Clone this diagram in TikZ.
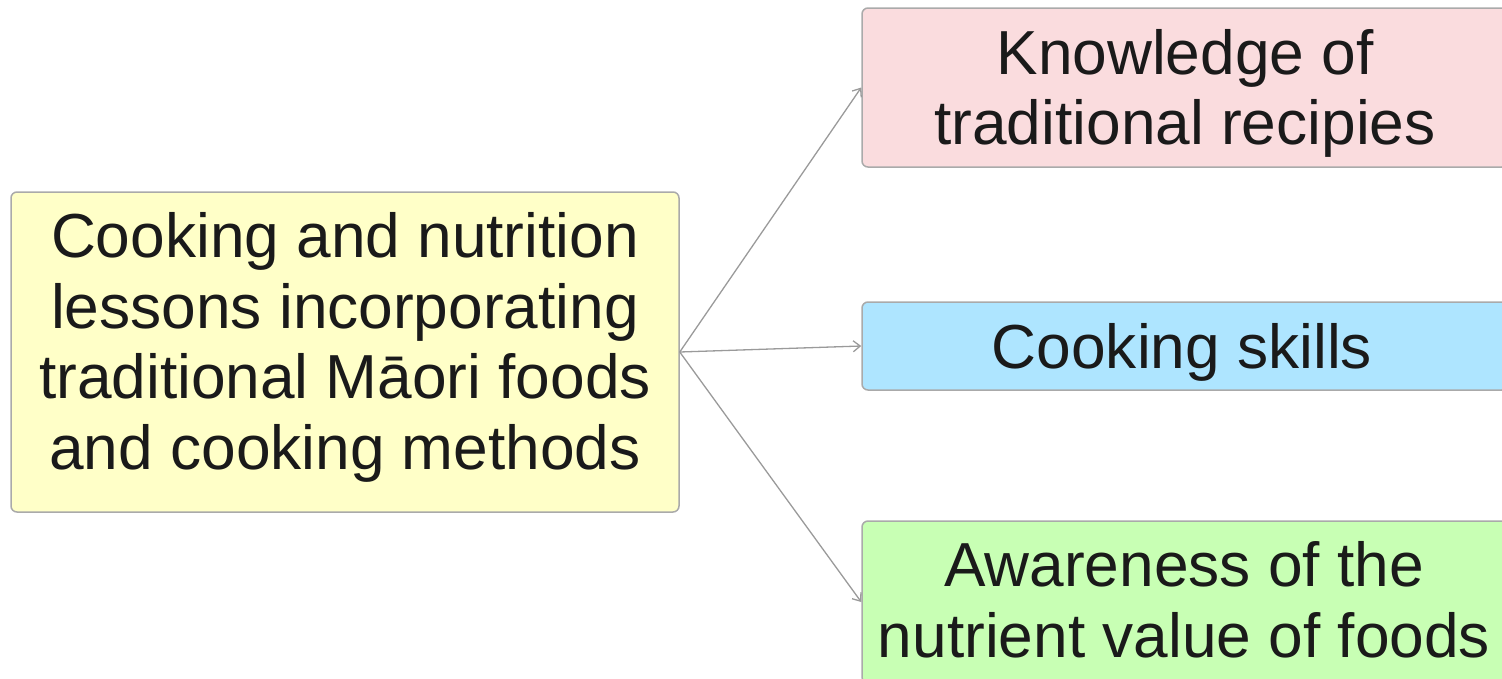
\documentclass[tikz,border=0pt]{standalone}
\usepackage{fontspec}
\setmainfont{Liberation Sans}
\usetikzlibrary{arrows.meta}
\definecolor{bordergray}{HTML}{AAAAAA}
\definecolor{linegray}{HTML}{9A9A9A}
\definecolor{yellowfill}{HTML}{FFFFC8}
\definecolor{pinkfill}{HTML}{FADCDE}
\definecolor{bluefill}{HTML}{AEE5FF}
\definecolor{greenfill}{HTML}{C8FFB4}
\definecolor{textcol}{HTML}{1A1A1A}
\tikzset{
  box/.style={draw=bordergray, line width=1.5pt, rounded corners=6pt, inner sep=0pt},
  label text/.style={align=center, inner sep=0pt, text=textcol,
    font=\fontsize{62.2}{70.5}\selectfont},
  conn/.style={draw=linegray, line width=1.3pt, -{Straight Barb[length=7pt,width=11pt,line width=1.3pt]}}
}
\begin{document}
\begin{tikzpicture}[x=1pt,y=-1pt]
\useasboundingbox (0,0) rectangle (1502,678);
\clip (0,0) rectangle (1502,678);
\node[box, fill=yellowfill, minimum width=668pt, minimum height=320pt] (src) at (345,352) {};
\node[box, fill=pinkfill, minimum width=646pt, minimum height=159pt] (know) at (1185,87.5) {};
\node[box, fill=bluefill, minimum width=646pt, minimum height=88pt] (skill) at (1185,346) {};
\node[box, fill=greenfill, minimum width=646pt, minimum height=162pt] (aware) at (1185,602) {};
\node[label text] (srctext) at (345,347.5)
  {Cooking and nutrition\\lessons incorporating\\traditional Māori foods\\and cooking methods};
\node[label text] (knowtext) at (1185,93.5) {Knowledge of\\traditional recipies};
\node[label text] (skilltext) at (1182,352) {Cooking skills};
\node[label text] (awaretext) at (1184,600) {Awareness of the\\nutrient value of foods};
\draw[conn] (src.east) -- (know.west);
\draw[conn] (src.east) -- (skill.west);
\draw[conn] (src.east) -- (aware.west);
\end{tikzpicture}
\end{document}
